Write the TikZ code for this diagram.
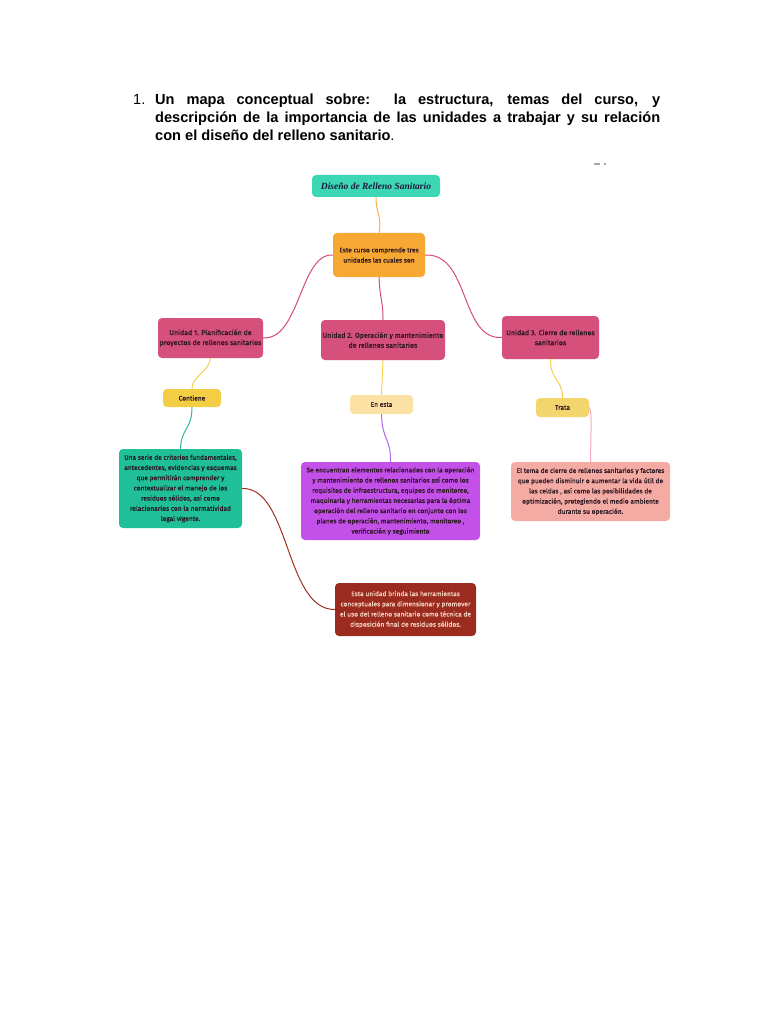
\documentclass[tikz,border=0pt]{standalone}
\usepackage{fontspec}
\setmainfont{Liberation Sans}
\newfontfamily\dfont[FakeBold=0.5]{Fira Sans}
\newfontfamily\tfont{Liberation Serif}
\definecolor{ctitle}{HTML}{3ED7B5}
\definecolor{ttext}{HTML}{1C1A3A}
\definecolor{corange}{HTML}{F6A832}
\definecolor{cunit}{HTML}{D5507A}
\definecolor{ccont}{HTML}{F3CE43}
\definecolor{cenesta}{HTML}{FCE1A4}
\definecolor{ctrata}{HTML}{F3D56E}
\definecolor{cteal}{HTML}{1FBF98}
\definecolor{cpurple}{HTML}{C450EA}
\definecolor{csalmon}{HTML}{F4ABA4}
\definecolor{cdred}{HTML}{9A2B1E}
\definecolor{ltext}{HTML}{F6D5C4}
\definecolor{dtext}{HTML}{2A1520}
\definecolor{lorange}{HTML}{F5B14A}
\definecolor{lpink}{HTML}{D14C7E}
\definecolor{lyellow}{HTML}{F6D04D}
\definecolor{lteal}{HTML}{2CB8A0}
\definecolor{lpurple}{HTML}{B565EA}
\definecolor{lrose}{HTML}{F7A8C0}
\definecolor{ldred}{HTML}{A0301F}
\begin{document}
\begin{tikzpicture}[x=1pt,y=-1pt,
  box/.style={rounded corners=4pt, inner sep=0pt, align=center, text=dtext,
    font={\dfont\fontsize{6.6pt}{10.2pt}\selectfont}},
  unit/.style={box, fill=cunit, font={\dfont\fontsize{7pt}{10pt}\selectfont}},
  head/.style={anchor=base west, inner sep=0pt, font={\bfseries\fontsize{14.6pt}{18pt}\selectfont}},
  conn/.style={line width=1pt}
]
\useasboundingbox (0,0) rectangle (768,1024);
\fill[white] (0,0) rectangle (768,1024);

% heading
\node[anchor=base west, inner sep=0pt, font={\fontsize{14.6pt}{18pt}\selectfont}] (num) at (133,105) {1.};
\node[head] (h1) at (155,105) {\makebox[505pt][s]{Un mapa conceptual sobre:\ \ la estructura, temas del curso, y}};
\node[head] (h2) at (155,123) {\makebox[505pt][s]{descripción de la importancia de las unidades a trabajar y su relación}};
\node[head] (h3) at (155,141) {con el diseño del relleno sanitario\textmd{.}};

\fill[gray!70] (594,163) rectangle (600,165);
\fill[gray!70] (604,163) rectangle (606,165);

% nodes
\node[box, fill=ctitle, minimum width=128pt, minimum height=22pt,
  font={\tfont\bfseries\itshape\fontsize{9.5pt}{11pt}\selectfont}, text=ttext] (title) at (376,186) {Diseño de Relleno Sanitario};
\node[box, fill=corange, minimum width=92pt, minimum height=44pt] (curso) at (379,255) {Este curso comprende tres\\unidades las cuales son};
\node[unit, minimum width=105pt, minimum height=40pt] (u1) at (210.5,338) {Unidad 1. Planificación de\\proyectos de rellenos sanitarios};
\node[unit, minimum width=124pt, minimum height=40pt] (u2) at (383,340) {Unidad 2. Operación y mantenimiento\\de rellenos sanitarios};
\node[unit, minimum width=97pt, minimum height=43pt] (u3) at (550.5,337.5) {Unidad 3. Cierre de rellenos\\sanitarios};
\node[box, fill=ccont, minimum width=58pt, minimum height=18pt] (cont) at (192,398) {Contiene};
\node[box, fill=cenesta, minimum width=63pt, minimum height=19pt] (enesta) at (381.5,404.5) {En esta};
\node[box, fill=ctrata, minimum width=53pt, minimum height=19pt] (trata) at (562.5,407.5) {Trata};
\node[box, fill=cteal, minimum width=123pt, minimum height=79pt] (teal) at (180.5,488.5) {Una serie de criterios fundamentales,\\antecedentes, evidencias y esquemas\\que permitirán comprender y\\contextualizar el manejo de los\\residuos sólidos, así como\\relacionarlos con la normatividad\\legal vigente.};
\node[box, fill=cpurple, minimum width=179pt, minimum height=78pt] (purple) at (390.5,501) {Se encuentran elementos relacionados con la operación\\y mantenimiento de rellenos sanitarios así como los\\requisitos de infraestructura, equipos de monitoreo,\\maquinaria y herramientas necesarias para la óptima\\operación del relleno sanitario en conjunto con los\\planes de operación, mantenimiento, monitoreo ,\\verificación y seguimiento};
\node[box, fill=csalmon, minimum width=159pt, minimum height=59pt] (salmon) at (590.5,491.5) {El tema de cierre de rellenos sanitarios y factores\\que pueden disminuir o aumentar la vida útil de\\las celdas , así como las posibilidades de\\optimización, protegiendo el medio ambiente\\durante su operación.};
\node[box, fill=cdred, text=ltext, minimum width=141pt, minimum height=53pt] (dred) at (405.5,609.5) {Esta unidad brinda las herramientas\\conceptuales para dimensionar y promover\\el uso del relleno sanitario como técnica de\\disposición final de residuos sólidos.};

% connectors
\draw[conn, lorange] (title.south) .. controls (376,215) and (382,215) .. (curso.north);
\draw[conn, lpink] (curso.west) .. controls (300,253) and (300,340) .. (u1.east);
\draw[conn, lpink] (curso.south) .. controls (380,300) and (383,300) .. (u2.north);
\draw[conn, lpink] (curso.east) .. controls (470,253) and (460,340) .. (u3.west);
\draw[conn, lyellow] (u1.south) .. controls (209,372) and (192,376) .. (cont.north);
\draw[conn, lyellow] (u2.south) .. controls (383,378) and (382,378) .. (enesta.north);
\draw[conn, lyellow] (u3.south) .. controls (550,380) and (563,380) .. (trata.north);
\draw[conn, lteal] (cont.south) .. controls (192,430) and (181,428) .. (teal.north);
\draw[conn, lpurple] (enesta.south) .. controls (382,440) and (391,438) .. (purple.north);
\draw[conn, lrose] (trata.east) .. controls (592,412) and (591,425) .. (salmon.north);
\draw[conn, ldred] (teal.east) .. controls (290,487) and (285,610) .. (dred.west);
\end{tikzpicture}
\end{document}
